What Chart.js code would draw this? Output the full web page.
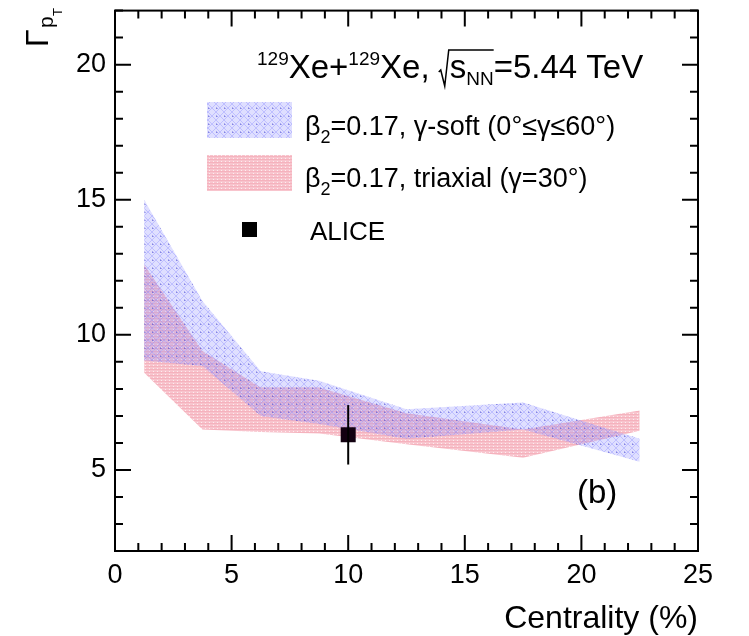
<!DOCTYPE html>
<html>
<head>
<meta charset="utf-8">
<script src="https://cdn.jsdelivr.net/npm/chart.js@4.4.1/dist/chart.umd.min.js"></script>
<style>
  body { margin: 0; background: #fff; }
  canvas { display: block; }
</style>
</head>
<body>
<canvas id="grafico" width="749" height="636"></canvas>
<script>
// centralidade (%) dos pontos do modelo
const centralidade = [1.25, 3.75, 6.25, 8.75, 12.5, 17.5, 22.5];
// banda gamma-soft
const softAlto = [15.0, 11.25, 8.65, 8.3, 7.25, 7.5, 6.15];
const softBaixo = [9.05, 8.85, 7.0, 6.7, 6.15, 6.5, 5.3];
// banda triaxial
const triaxAlto = [12.6, 9.4, 8.05, 8.05, 7.1, 6.5, 7.2];
const triaxBaixo = [8.6, 6.5, 6.4, 6.35, 5.95, 5.45, 6.45];
// ponto ALICE
const aliceX = [10];
const aliceY = [6.3];
const aliceErro = [1.1];
// ticks
const ticksX = [0, 5, 10, 15, 20, 25];
const ticksY = [5, 10, 15, 20];

const FONTE = "'Liberation Sans', Arial, sans-serif";

function pares(xs, ys) {
    return xs.map((x, i) => ({ x: x, y: ys[i] }));
}

// padrões de hachura
function padraoSoft() {
    const c = document.createElement('canvas');
    c.width = 8; c.height = 8;
    const g = c.getContext('2d');
    g.fillStyle = 'rgba(150,150,255,0.30)';
    g.fillRect(0, 0, 8, 8);
    g.strokeStyle = 'rgba(130,130,255,0.35)';
    g.lineWidth = 1;
    g.beginPath();
    g.moveTo(0, 0); g.lineTo(8, 8);
    g.moveTo(8, 0); g.lineTo(0, 8);
    g.stroke();
    g.fillStyle = 'rgba(70,70,210,0.6)';
    g.fillRect(0, 4, 1, 1);
    g.fillStyle = 'rgba(70,70,210,0.35)';
    g.fillRect(1, 4, 1, 1);
    g.fillRect(0, 3, 1, 1);
    return g.createPattern(c, 'repeat');
}

function padraoTriax() {
    const c = document.createElement('canvas');
    c.width = 4; c.height = 3;
    const g = c.getContext('2d');
    g.fillStyle = 'rgba(240,125,145,0.45)';
    g.fillRect(0, 0, 4, 3);
    g.fillStyle = 'rgba(235,110,125,0.2)';
    g.fillRect(0, 0, 4, 1);
    g.clearRect(1, 2, 1, 1);
    g.fillStyle = 'rgba(240,125,145,0.15)';
    g.fillRect(1, 2, 1, 1);
    return g.createPattern(c, 'repeat');
}

const corSoft = padraoSoft();
const corTriax = padraoTriax();

// moldura e ticks para dentro (estilo ROOT)
const moldura = {
    id: 'moldura',
    afterDatasetsDraw(chart) {
        const { ctx, chartArea: a, scales: { x, y } } = chart;
        ctx.save();
        // barra de erro do ALICE
        ctx.strokeStyle = '#000';
        ctx.lineWidth = 2;
        aliceX.forEach((v, i) => {
            const px = x.getPixelForValue(v);
            ctx.beginPath();
            ctx.moveTo(px, y.getPixelForValue(aliceY[i] + aliceErro[i]));
            ctx.lineTo(px, y.getPixelForValue(aliceY[i] - aliceErro[i]));
            ctx.stroke();
        });
        ctx.strokeRect(a.left, a.top, a.right - a.left, a.bottom - a.top);
        ctx.beginPath();
        for (let v = x.min; v <= x.max; v++) {
            const px = x.getPixelForValue(v);
            const len = v % 5 === 0 ? 16 : 8;
            ctx.moveTo(px, a.bottom); ctx.lineTo(px, a.bottom - len);
            ctx.moveTo(px, a.top); ctx.lineTo(px, a.top + len);
        }
        for (let v = y.min; v <= y.max; v++) {
            const py = y.getPixelForValue(v);
            const len = v % 5 === 0 ? 16 : 8;
            ctx.moveTo(a.left, py); ctx.lineTo(a.left + len, py);
            ctx.moveTo(a.right, py); ctx.lineTo(a.right - len, py);
        }
        ctx.stroke();
        ctx.restore();
    },
    afterDraw(chart) {
        const ctx = chart.ctx;
        ctx.save();
        ctx.fillStyle = '#000';
        ctx.textBaseline = 'alphabetic';
        ctx.textAlign = 'left';

        // título do eixo x
        ctx.font = '32px ' + FONTE;
        ctx.textAlign = 'right';
        ctx.fillText('Centrality (%)', chart.chartArea.right, 628);
        ctx.textAlign = 'left';

        // título do eixo y (girado)
        ctx.save();
        ctx.translate(48, 47);
        ctx.rotate(-Math.PI / 2);
        ctx.font = '32px ' + FONTE;
        ctx.fillText('\u0393', 0, 0);
        ctx.font = '21px ' + FONTE;
        ctx.fillText('p', 19, 5);
        ctx.font = '13px ' + FONTE;
        ctx.fillText('T', 31, 14);
        ctx.restore();

        // linha do sistema de colisão
        let px = 257;
        const base = 78;
        const grande = '33px ' + FONTE;
        const peq = '19px ' + FONTE;
        function txt(t, f, dy) {
            ctx.font = f;
            ctx.fillText(t, px, base + (dy || 0));
            px += ctx.measureText(t).width;
        }
        txt('129', peq, -13);
        txt('Xe+', grande);
        txt('129', peq, -13);
        txt('Xe, ', grande);
        // raiz
        ctx.font = grande;
        const wS = ctx.measureText('s').width;
        ctx.font = peq;
        const wNN = ctx.measureText('NN').width;
        ctx.beginPath();
        ctx.lineWidth = 1.5;
        ctx.strokeStyle = '#000';
        ctx.moveTo(px, base - 6);
        ctx.lineTo(px + 2, base - 8);
        ctx.lineTo(px + 6, base + 8);
        ctx.lineTo(px + 10, base - 28);
        ctx.lineTo(px + 11 + wS + wNN, base - 28);
        ctx.stroke();
        px += 11;
        txt('s', grande);
        txt('NN', peq, 7);
        txt('=5.44 TeV', grande);

        // legenda
        const entradas = [
            { cor: corSoft, texto: '=0.17, \u03b3-soft (0\u00b0\u2264\u03b3\u226460\u00b0)', y0: 102, base: 135 },
            { cor: corTriax, texto: '=0.17, triaxial (\u03b3=30\u00b0)', y0: 155, base: 187 }
        ];
        entradas.forEach(e => {
            ctx.fillStyle = e.cor;
            ctx.fillRect(207, e.y0, 85, 36);
            ctx.fillStyle = '#000';
            px = 305;
            ctx.font = '27px ' + FONTE;
            ctx.fillText('\u03b2', px, e.base);
            px += ctx.measureText('\u03b2').width;
            ctx.font = '18px ' + FONTE;
            ctx.fillText('2', px, e.base + 8);
            px += ctx.measureText('2').width;
            ctx.font = '27px ' + FONTE;
            ctx.fillText(e.texto, px, e.base);
        });
        ctx.fillRect(242, 222, 15, 15);
        ctx.font = '26px ' + FONTE;
        ctx.fillText('ALICE', 310, 240);

        ctx.font = '33px ' + FONTE;
        ctx.fillText('(b)', 577, 503);
        ctx.restore();
    }
};

new Chart(document.getElementById('grafico').getContext('2d'), {
    type: 'scatter',
    data: {
        datasets: [
            {
                label: 'ALICE',
                data: pares(aliceX, aliceY),
                pointStyle: 'rect',
                pointRadius: 10.6,
                backgroundColor: '#120010',
                borderColor: '#120010',
                borderWidth: 0
            },
            {
                label: 'soft baixo',
                data: pares(centralidade, softBaixo),
                showLine: true,
                pointRadius: 0,
                borderColor: 'rgba(0,0,0,0)',
                borderWidth: 0,
                fill: false
            },
            {
                label: 'soft alto',
                data: pares(centralidade, softAlto),
                showLine: true,
                pointRadius: 0,
                borderColor: 'rgba(0,0,0,0)',
                borderWidth: 0,
                backgroundColor: corSoft,
                fill: '-1'
            },
            {
                label: 'triax baixo',
                data: pares(centralidade, triaxBaixo),
                showLine: true,
                pointRadius: 0,
                borderColor: 'rgba(0,0,0,0)',
                borderWidth: 0,
                fill: false
            },
            {
                label: 'triax alto',
                data: pares(centralidade, triaxAlto),
                showLine: true,
                pointRadius: 0,
                borderColor: 'rgba(0,0,0,0)',
                borderWidth: 0,
                backgroundColor: corTriax,
                fill: '-1'
            }
        ]
    },
    options: {
        responsive: false,
        animation: false,
        layout: { padding: { left: 0, top: 7, right: 51, bottom: 0 } },
        plugins: {
            legend: { display: false },
            tooltip: { enabled: false }
        },
        scales: {
            x: {
                type: 'linear',
                min: 0,
                max: 25,
                afterFit(s) { s.height = 85; s.paddingLeft = 0; s.paddingRight = 0; },
                afterBuildTicks(s) { s.ticks = ticksX.map(v => ({ value: v })); },
                grid: { display: false, drawTicks: false },
                border: { display: false },
                ticks: {
                    padding: 8,
                    color: '#000',
                    font: { family: FONTE, size: 27 }
                }
            },
            y: {
                type: 'linear',
                min: 2,
                max: 22,
                afterFit(s) { s.width = 115; s.paddingTop = 0; s.paddingBottom = 0; },
                afterBuildTicks(s) { s.ticks = ticksY.map(v => ({ value: v })); },
                grid: { display: false, drawTicks: false },
                border: { display: false },
                ticks: {
                    padding: 9,
                    color: '#000',
                    font: { family: FONTE, size: 27 }
                }
            }
        }
    },
    plugins: [moldura]
});
</script>
</body>
</html>
